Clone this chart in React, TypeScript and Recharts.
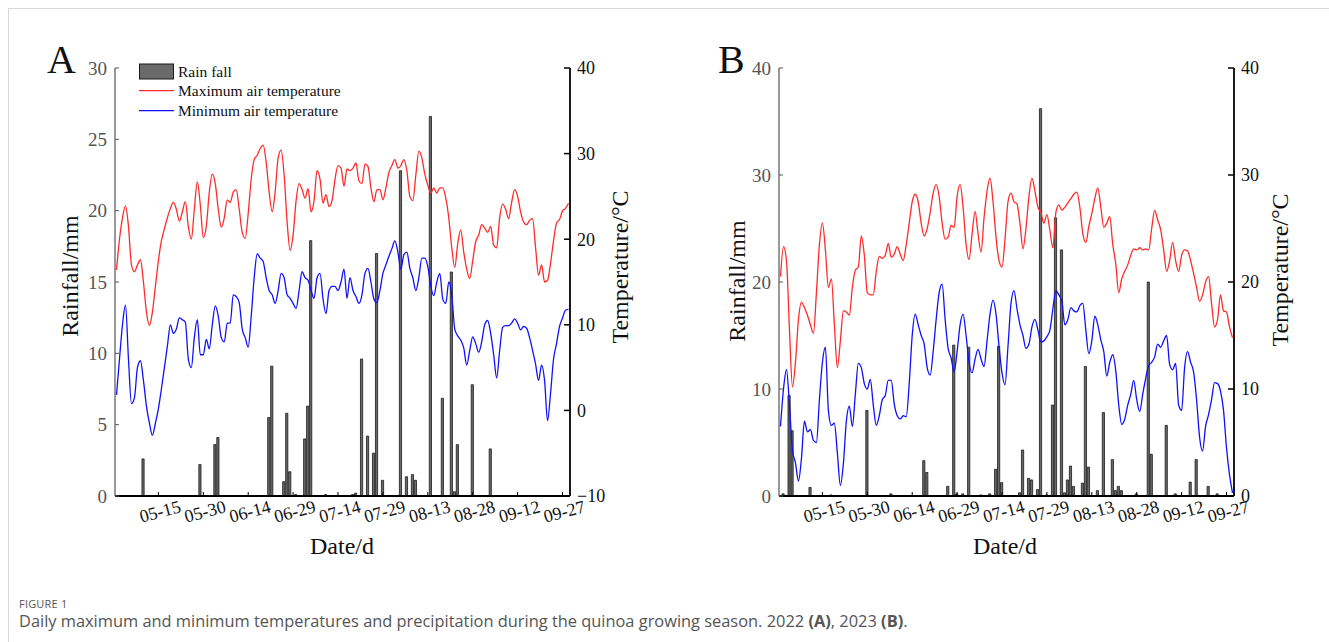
import React from 'react';
import { ComposedChart, Bar, Line, XAxis, YAxis } from 'recharts';

// ---- categories: daily dates from 05-01 to 09-29 ----
const MONTH_DAYS: [number, number][] = [[5, 31], [6, 30], [7, 31], [8, 31], [9, 29]];
const pad = (n: number) => (n < 10 ? '0' + n : '' + n);
const dates: string[] = MONTH_DAYS.flatMap(([m, n]) =>
  Array.from({ length: n }, (_, k) => `${pad(m)}-${pad(k + 1)}`)
);
const xTicks = ['05-15', '05-30', '06-14', '06-29', '07-14', '07-29', '08-13', '08-28', '09-12', '09-27'];

// ---- 2022 (A) ----
const rainA = [
  0, 0, 0, 0, 0, 0, 0, 0, 0, 2.6,
  0, 0, 0, 0, 0, 0, 0, 0, 0, 0,
  0, 0, 0, 0, 0, 0, 0, 0, 2.2, 0,
  0, 0, 0, 3.6, 4.1, 0, 0, 0, 0, 0,
  0, 0, 0, 0, 0, 0, 0, 0, 0, 0,
  0, 5.5, 9.1, 0, 0, 0, 1.0, 5.8, 1.7, 0,
  0.1, 0, 0, 4.0, 6.3, 17.9, 0, 0, 0, 0,
  0.1, 0, 0, 0, 0, 0, 0, 0, 0, 0.1,
  0.2, 0, 9.6, 0, 4.2, 0, 3.0, 17.0, 0, 1.1,
  0, 0, 0, 0, 0, 22.8, 0, 1.35, 0, 1.5,
  1.1, 0, 0, 0, 0, 26.6, 0, 0, 0, 6.85,
  0, 0, 15.7, 0.3, 3.6, 0, 0, 0, 0, 7.8,
  0, 0, 0, 0, 0, 3.3, 0, 0, 0, 0,
  0, 0, 0, 0, 0, 0, 0, 0, 0, 0,
  0, 0, 0, 0, 0, 0, 0, 0, 0, 0,
  0, 0,
];
const maxA = [
  16.4, 20.0, 22.5, 23.9, 21.5, 17.0, 16.2, 17.0, 17.6, 15.0,
  11.5, 9.9, 11.5, 14.5, 17.5, 19.8, 21.2, 22.5, 23.6, 24.3,
  23.5, 22.1, 23.2, 24.4, 21.5, 20.0, 23.5, 26.7, 24.0, 20.2,
  21.5, 25.5, 27.6, 26.5, 23.5, 21.4, 22.5, 24.6, 24.3, 25.5,
  25.8, 23.5, 20.8, 20.1, 23.0, 27.0, 29.3, 29.8, 30.6, 31.0,
  29.0, 25.5, 23.2, 25.5, 29.5, 30.4, 27.5, 22.0, 18.7, 20.5,
  24.5, 26.5, 25.8, 24.8, 25.9, 23.2, 24.5, 28.0, 27.0, 24.2,
  25.2, 23.8, 24.5, 27.0, 28.6, 28.3, 26.2, 28.2, 28.0, 28.3,
  28.9, 26.8, 26.5, 28.8, 28.5, 26.0, 24.4, 25.8, 25.8, 24.6,
  26.0, 27.8, 28.6, 29.3, 28.3, 28.6, 29.3, 28.0, 25.0, 24.5,
  27.5, 30.3, 29.5, 27.6, 26.3, 25.4, 26.0, 25.4, 26.0, 26.0,
  24.8, 22.5, 19.0, 16.7, 19.5, 21.1, 18.5, 16.5, 15.4, 17.5,
  19.7, 20.5, 21.7, 21.3, 20.8, 21.5, 19.3, 19.0, 22.5, 24.1,
  23.5, 22.4, 24.3, 25.8, 25.0, 23.2, 22.0, 21.7, 22.2, 22.4,
  19.0, 15.8, 17.0, 15.0, 15.2, 17.2, 19.8, 21.9, 22.3, 23.3,
  23.6, 24.2,
];
const minA = [
  1.8, 6.0, 10.0, 12.3, 6.0, 0.8, 1.5, 5.0, 5.8, 3.5,
  0.5, -1.5, -2.9, -1.5, 0.2, 2.5, 5.0, 7.5, 10.0, 9.0,
  9.5, 10.8, 10.6, 10.3, 6.0, 5.0, 8.5, 10.6, 6.5, 6.5,
  8.3, 7.2, 10.0, 12.2, 11.0, 8.5, 8.0, 10.2, 10.2, 13.5,
  13.3, 12.6, 9.5, 8.5, 7.4, 11.0, 15.5, 18.3, 17.8, 17.4,
  15.5, 14.0, 13.5, 12.5, 14.0, 16.0, 15.5, 13.5, 13.1, 12.5,
  11.9, 14.0, 16.2, 15.5, 15.2, 14.0, 13.1, 15.5, 16.0, 13.0,
  11.3, 14.0, 14.5, 14.5, 14.0, 15.0, 16.5, 13.1, 15.5, 14.0,
  13.3, 12.5, 13.5, 16.0, 16.6, 15.0, 13.0, 12.6, 14.0, 16.0,
  17.0, 18.0, 18.9, 19.8, 18.5, 16.5, 18.2, 18.5, 16.6, 15.5,
  14.0, 15.5, 17.8, 17.8, 16.8, 14.5, 13.4, 15.0, 16.0, 13.0,
  12.5, 15.0, 13.5, 9.5, 8.7, 8.2, 7.3, 5.3, 7.0, 8.6,
  7.8, 6.8, 8.0, 10.0, 10.5, 9.0, 6.5, 3.8, 7.0, 9.7,
  9.9, 9.9, 10.2, 10.7, 10.2, 9.4, 9.8, 9.6, 8.5, 7.0,
  5.4, 3.5, 5.3, 3.5, -1.2, 2.0, 6.0, 7.8, 9.8, 10.8,
  11.7, 11.8,
];

// ---- 2023 (B) ----
const rainB = [
  0, 0.2, 0, 9.4, 6.1, 0, 0, 0, 0, 0,
  0.8, 0, 0, 0, 0, 0, 0, 0.1, 0, 0,
  0, 0, 0, 0, 0, 0, 0, 0, 0, 8.0,
  0, 0, 0, 0, 0, 0, 0, 0.2, 0, 0,
  0, 0, 0, 0, 0, 0, 0, 0, 3.3, 2.2,
  0, 0, 0, 0, 0, 0, 0.9, 0, 14.1, 0.2,
  0, 0.2, 0, 13.9, 0, 0, 0, 0.1, 0, 0,
  0.2, 0, 2.5, 14.0, 1.25, 0, 0, 0, 0, 0,
  0.3, 4.3, 0, 1.65, 1.5, 0, 0.6, 36.2, 0, 0.1,
  0, 8.5, 26.0, 0, 23.0, 0.3, 1.5, 2.8, 0.9, 0,
  0, 1.2, 12.1, 2.7, 0, 0, 0.5, 0, 7.8, 0,
  0, 3.4, 0.5, 0.9, 0.5, 0, 0, 0, 0, 0.2,
  0, 0, 0, 20.0, 3.9, 0, 0, 0, 0, 6.6,
  0, 0, 0.2, 0, 0, 0, 0, 1.3, 0, 3.4,
  0, 0, 0, 0.9, 0, 0, 0.2, 0, 0, 0,
  0, 0,
];
const maxB = [
  20.5, 23.3, 22.0, 15.5, 10.2, 12.5, 16.5, 18.1, 17.6, 16.9,
  16.0, 15.2, 19.0, 23.5, 25.5, 23.0, 19.5, 20.3, 16.0, 12.0,
  14.5, 17.3, 17.2, 16.9, 19.5, 21.1, 21.4, 24.3, 22.5, 19.0,
  18.8, 18.8, 21.0, 22.4, 22.2, 22.5, 23.6, 22.3, 22.6, 23.3,
  22.6, 22.0, 23.5, 25.5, 27.5, 28.2, 27.5, 25.5, 24.3, 25.0,
  26.5, 28.3, 29.1, 28.0, 25.5, 24.0, 24.2, 25.3, 25.1, 28.0,
  29.1, 27.0, 23.5, 22.1, 24.5, 26.6, 24.5, 22.8, 26.0, 28.5,
  29.7, 27.5, 24.2, 22.0, 21.4, 24.0, 27.5, 28.3, 27.5, 27.3,
  25.5, 23.1, 25.0, 28.0, 29.7, 28.5, 27.0, 26.5, 25.5, 26.3,
  24.8, 23.2, 26.5, 27.2, 26.7, 27.0, 27.4, 27.8, 28.2, 28.4,
  27.0, 24.5, 23.7, 25.2, 26.4, 27.8, 28.8, 27.0, 25.1, 25.5,
  26.1, 23.5, 21.7, 19.0, 20.3, 21.0, 21.6, 22.5, 23.1, 23.0,
  23.2, 23.0, 23.1, 23.0, 25.0, 26.7, 25.8, 24.9, 23.0, 21.0,
  22.0, 23.7, 22.0, 21.0, 22.5, 23.0, 22.9, 22.0, 20.8, 19.5,
  18.2, 18.8, 20.0, 20.5, 18.0, 15.8, 16.5, 18.8, 17.3, 17.2,
  15.8, 14.8,
];
const minB = [
  6.5, 10.0, 11.8, 8.5, 4.3, 3.1, 1.4, 3.5, 7.0, 6.0,
  6.2, 5.2, 5.0, 9.0, 12.5, 13.9, 8.0, 6.6, 6.8, 4.0,
  1.0, 3.0, 7.0, 8.4, 6.5, 9.5, 12.4, 12.0, 10.5, 10.0,
  10.9, 8.5, 6.6, 7.5, 9.0, 9.4, 10.8, 10.8, 8.6, 7.5,
  7.2, 7.5, 7.4, 10.5, 15.0, 17.0, 16.0, 15.0, 14.2, 12.0,
  11.3, 13.5, 16.5, 19.0, 19.8, 16.5, 13.8, 12.9, 11.6, 13.5,
  16.0, 17.0, 15.0, 12.5, 11.5, 12.8, 13.7, 12.8, 12.1, 14.5,
  17.0, 18.3, 17.0, 14.0, 11.5, 10.4, 14.0, 18.0, 19.2, 17.5,
  16.0, 15.0, 13.8, 14.2, 15.8, 16.5, 15.5, 14.4, 14.5, 14.9,
  15.5, 17.5, 19.2, 18.8, 18.2, 16.0, 16.5, 17.6, 17.3, 17.2,
  17.8, 18.0, 15.5, 13.3, 14.5, 16.8, 16.0, 14.6, 13.5, 11.2,
  12.5, 13.2, 11.7, 8.5, 6.7, 7.2, 8.5, 9.5, 10.8, 9.0,
  7.9, 9.5, 11.0, 12.2, 12.5, 13.0, 14.2, 13.9, 14.5, 15.0,
  12.3, 11.8, 12.4, 8.5, 8.0, 12.0, 13.5, 12.5, 11.6, 9.0,
  5.5, 4.2, 6.5, 7.6, 9.0, 10.6, 10.5, 9.8, 8.0, 4.5,
  2.0, 0.3,
];

const rainTicksA = [0, 5, 10, 15, 20, 25, 30];
const tempTicksA = [-10, 0, 10, 20, 30, 40];
const rainTicksB = [0, 10, 20, 30, 40];
const tempTicksB = [0, 10, 20, 30, 40];

const build = (rain: number[], tmax: number[], tmin: number[]) =>
  dates.map((d, i) => ({ date: d, rain: rain[i] ? rain[i] : null, tmax: tmax[i], tmin: tmin[i] }));

const dataA = build(rainA, maxA, minA);
const dataB = build(rainB, maxB, minB);

const SERIF = '"Liberation Serif", "Times New Roman", serif';
const SANS = '"Open Sans", "Noto Sans", sans-serif';
const RED = '#ff2b2b';
const BLUE = '#1010ff';
const BAR_FILL = '#6a6a6a';
const TITLE = 24;

const minus = (v: number) => String(v).replace('-', '\u2212');

type PanelProps = {
  data: any[];
  rainDomain: [number, number];
  rainTicks: number[];
  tempDomain: [number, number];
  tempTicks: number[];
  left: number;
  marginLeft: number;
  marginRight: number;
};

function Panel({ data, rainDomain, rainTicks, tempDomain, tempTicks, left, marginLeft, marginRight }: PanelProps) {
  return (
    <div style={{ position: 'absolute', left, top: 0, width: 620, height: 560 }}>
      <ComposedChart
        width={620}
        height={560}
        data={data}
        margin={{ top: 68, right: marginRight, bottom: 24, left: marginLeft }}
      >
        <XAxis
          dataKey="date"
          ticks={xTicks}
          interval={0}
          height={40}
          tickSize={-4}
          tickMargin={13}
          angle={-15}
          axisLine={{ stroke: '#000', strokeWidth: 2 }}
          tickLine={{ stroke: '#000', strokeWidth: 1 }}
          tick={{ fontSize: 18, fill: '#111', fontFamily: SERIF }}
        />
        <YAxis
          yAxisId="rain"
          domain={rainDomain}
          ticks={rainTicks}
          allowDataOverflow
          width={40}
          tickSize={-4}
          tickMargin={12}
          axisLine={{ stroke: '#555', strokeWidth: 1.2 }}
          tickLine={{ stroke: '#555', strokeWidth: 1 }}
          tick={{ fontSize: 19, fill: '#555', fontFamily: SERIF }}
        />
        <YAxis
          yAxisId="temp"
          orientation="right"
          domain={tempDomain}
          ticks={tempTicks}
          allowDataOverflow
          width={45}
          tickSize={-6}
          tickMargin={13}
          tickFormatter={minus}
          axisLine={{ stroke: '#000', strokeWidth: 1.8 }}
          tickLine={{ stroke: '#000', strokeWidth: 1.5 }}
          tick={{ fontSize: 18, fill: '#111', fontFamily: SERIF }}
        />
        <Line
          yAxisId="temp"
          type="monotone"
          dataKey="tmax"
          stroke={RED}
          strokeWidth={1.3}
          dot={false}
          isAnimationActive={false}
        />
        <Line
          yAxisId="temp"
          type="monotone"
          dataKey="tmin"
          stroke={BLUE}
          strokeWidth={1.3}
          dot={false}
          isAnimationActive={false}
        />
        <Bar
          yAxisId="rain"
          dataKey="rain"
          barSize={2.2}
          fill={BAR_FILL}
          stroke="#1a1a1a"
          strokeWidth={0.8}
          isAnimationActive={false}
        />
      </ComposedChart>
    </div>
  );
}

export default function App() {
  return (
    <div
      style={{
        position: 'absolute',
        left: 0,
        top: 0,
        width: 1329,
        height: 642,
        background: '#fff',
        overflow: 'hidden',
      }}
    >
      <div
        style={{
          position: 'absolute',
          left: 8,
          top: 8,
          width: 1330,
          height: 640,
          borderTop: '1px solid #d9d9d9',
          borderLeft: '1px solid #d9d9d9',
        }}
      />
      <Panel
        data={dataA}
        rainDomain={[0, 30]}
        rainTicks={rainTicksA}
        tempDomain={[-10, 40]}
        tempTicks={tempTicksA}
        left={0}
        marginLeft={75}
        marginRight={5}
      />
      <Panel
        data={dataB}
        rainDomain={[0, 40]}
        rainTicks={rainTicksB}
        tempDomain={[0, 40]}
        tempTicks={tempTicksB}
        left={660}
        marginLeft={79}
        marginRight={1}
      />
      <svg
        width={1329}
        height={560}
        style={{ position: 'absolute', left: 0, top: 0, pointerEvents: 'none' }}
        fontFamily={SERIF}
      >
        <text x={47} y={73} fontSize={40} fill="#111">A</text>
        <text x={718} y={73} fontSize={40} fill="#111">B</text>

        {/* legend A */}
        <rect x={139.5} y={64} width={34} height={15} fill={BAR_FILL} stroke="#1a1a1a" strokeWidth={1} />
        <text x={178} y={77} fontSize={15.5} fill="#111">Rain fall</text>
        <line x1={139} y1={90.7} x2={174} y2={90.7} stroke={RED} strokeWidth={1.3} />
        <text x={178} y={96} fontSize={15.5} fill="#111">Maximum air temperature</text>
        <line x1={139} y1={110.7} x2={174} y2={110.7} stroke={BLUE} strokeWidth={1.3} />
        <text x={178} y={116} fontSize={15.5} fill="#111">Minimum air temperature</text>

        {/* axis titles */}
        <text transform="translate(70,276) rotate(-90)" textAnchor="middle" dominantBaseline="central" fontSize={TITLE} fill="#111">Rainfall/mm</text>
        <text transform="translate(620,267) rotate(-90)" textAnchor="middle" dominantBaseline="central" fontSize={TITLE} fill="#111">Temperature/°C</text>
        <text x={342} y={554} textAnchor="middle" fontSize={TITLE} fill="#111">Date/d</text>

        <text transform="translate(737,281) rotate(-90)" textAnchor="middle" dominantBaseline="central" fontSize={TITLE} fill="#111">Rainfall/mm</text>
        <text transform="translate(1280,270) rotate(-90)" textAnchor="middle" dominantBaseline="central" fontSize={TITLE} fill="#111">Temperature/°C</text>
        <text x={1005} y={554} textAnchor="middle" fontSize={TITLE} fill="#111">Date/d</text>
      </svg>

      <div
        style={{
          position: 'absolute',
          left: 19,
          top: 597,
          fontFamily: SANS,
          fontSize: 11,
          color: '#555',
          letterSpacing: 0.2,
          lineHeight: '13px',
        }}
      >
        FIGURE 1
      </div>
      <div
        style={{
          position: 'absolute',
          left: 19,
          top: 611,
          fontFamily: SANS,
          fontSize: 16.4,
          color: '#555',
          lineHeight: '19px',
          whiteSpace: 'nowrap',
        }}
      >
        Daily maximum and minimum temperatures and precipitation during the quinoa growing season. 2022{' '}
        <b>(A)</b>, 2023 <b>(B)</b>.
      </div>
    </div>
  );
}
